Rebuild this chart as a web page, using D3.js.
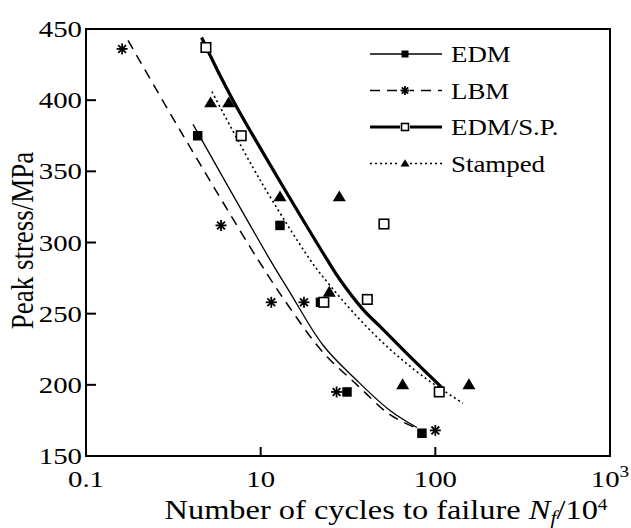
<!DOCTYPE html>
<head>
    <title>Peak stress vs cycles to failure</title>
    <script src="https://d3js.org/d3.v7.min.js"></script>
    <style>
      body { margin: 0; background: #fff; }
      text { font-family: "Liberation Serif", "Times New Roman", serif; fill: #000; }
    </style>
</head>

<body>
    <div id="svg-container">
        <svg width=631 height=528></svg>
    </div>
</body>

<script>
// measured points, N in units of 10^4 cycles, stress in MPa
const edmN = [4.36, 12.9, 22.0, 31.2, 83.8];
const edmS = [375, 312, 258, 195, 166];
const lbmN = [1.61, 5.93, 11.5, 17.7, 27.2, 100];
const lbmS = [436, 312, 258, 258, 195, 168];
const spN = [4.86, 7.74, 23.0, 40.8, 50.8, 105.3];
const spS = [437, 375, 258, 260, 313, 195];
const stN = [5.17, 6.56, 12.9, 28.2, 24.7, 65.0, 155.7];
const stS = [398, 398, 332, 332, 265, 200, 200];

// fitted curves
const edmFitN = [4.10, 11.3, 14.7, 22.7, 35.6, 55.0, 78.5];
const edmFitS = [383, 288, 265, 228, 203, 182, 170];
const lbmFitN = [1.74, 3.45, 9.65, 14.7, 22.7, 35.6, 55.0, 76.4];
const lbmFitS = [442, 379, 288, 254, 223, 200, 179, 170];
const spFitN = [4.59, 6.94, 24.0, 28.4, 38.5, 48.2, 68.8, 109.1];
const spFitS = [444, 400, 288, 274, 253, 241, 222, 198];
const stFitN = [5.26, 9.91, 19.15, 22.7, 35.6, 55.0, 84.9, 143.9];
const stFitS = [406, 344, 288, 276, 248, 225, 206, 187];

const xTicks = [1, 10, 100, 1000];
const xTickLabels = ["0.1", "10", "100", "10^3"];
const yTicks = [150, 200, 250, 300, 350, 400, 450];

const margin = {left: 86, right: 21, top: 29, bottom: 72};
const W = 631, H = 528;
const SX = 1.2;  // the picture's type is wider than it is tall

const x = d3.scaleLog().domain([1, 1000]).range([margin.left, W - margin.right]);
const y = d3.scaleLinear().domain([150, 450]).range([H - margin.bottom, margin.top]);

const svg = d3.select('svg');

const zip = (a, b) => a.map((v, i) => [v, b[i]]);

const series = [
  {name: 'EDM', pts: zip(edmN, edmS), fit: zip(edmFitN, edmFitS), marker: 'square', width: 1.3, dash: null},
  {name: 'LBM', pts: zip(lbmN, lbmS), fit: zip(lbmFitN, lbmFitS), marker: 'star', width: 1.5, dash: '10,7'},
  {name: 'EDM/S.P.', pts: zip(spN, spS), fit: zip(spFitN, spFitS), marker: 'open', width: 3.2, dash: null},
  {name: 'Stamped', pts: zip(stN, stS), fit: zip(stFitN, stFitS), marker: 'tri', width: 1.6, dash: '2,3'}
];

function label(px, py, size, anchor, sx) {
  return svg.append('text')
    .attr('transform', `translate(${px},${py}) scale(${sx || SX},1)`)
    .attr('text-anchor', anchor).attr('font-size', size + 'px');
}

function drawMarker(g, type, s) {
  if (type === 'square') {
    g.append('rect').attr('x', -s / 2).attr('y', -s / 2).attr('width', s).attr('height', s).attr('fill', '#000');
  } else if (type === 'open') {
    g.append('rect').attr('x', -s / 2).attr('y', -s / 2).attr('width', s).attr('height', s)
      .attr('fill', '#fff').attr('stroke', '#000').attr('stroke-width', 1.6);
  } else if (type === 'tri') {
    const h = s * 0.9;
    g.append('path').attr('d', `M0,${-h * 0.6}L${s / 2 + 0.5},${h * 0.4}L${-s / 2 - 0.5},${h * 0.4}Z`).attr('fill', '#000');
  } else {
    const r = s / 2;
    [0, 45, 90, 135].forEach(a => {
      const c = Math.cos(a * Math.PI / 180) * r, sn = Math.sin(a * Math.PI / 180) * r;
      g.append('line').attr('x1', -c).attr('y1', -sn).attr('x2', c).attr('y2', sn)
        .attr('stroke', '#000').attr('stroke-width', 1.8);
    });
  }
}

// frame
svg.append('rect')
  .attr('x', x.range()[0]).attr('y', y.range()[1])
  .attr('width', x.range()[1] - x.range()[0]).attr('height', y.range()[0] - y.range()[1])
  .attr('fill', 'none').attr('stroke', '#000').attr('stroke-width', 2);

// y ticks, pointing inward
yTicks.slice(1, -1).forEach(t => {
  svg.append('line').attr('x1', x.range()[0]).attr('x2', x.range()[0] + 10)
    .attr('y1', y(t)).attr('y2', y(t)).attr('stroke', '#000').attr('stroke-width', 2);
});
yTicks.forEach(t => {
  label(x.range()[0] - 4, y(t) + 8, 24, 'end').text(t);
});

// x ticks
xTicks.slice(1, -1).forEach(t => {
  svg.append('line').attr('x1', x(t)).attr('x2', x(t))
    .attr('y1', y.range()[0]).attr('y2', y.range()[0] - 9).attr('stroke', '#000').attr('stroke-width', 2);
});
xTicks.forEach((t, i) => {
  const lab = xTickLabels[i];
  const txt = label(x(t), 487, 24, 'middle');
  if (lab.indexOf('^') > -1) {
    const p = lab.split('^');
    txt.append('tspan').text(p[0]);
    txt.append('tspan').attr('dy', -10).attr('font-size', '16px').text(p[1]);
  } else {
    txt.text(lab);
  }
});

// axis titles
const xt = label(386, 519, 27, 'middle');
xt.append('tspan').text('Number of cycles to failure ');
xt.append('tspan').attr('font-style', 'italic').text('N');
xt.append('tspan').attr('font-style', 'italic').attr('font-size', '18px').attr('dy', 5).text('f');
xt.append('tspan').attr('dy', -5).text('/10');
xt.append('tspan').attr('font-size', '16px').attr('dy', -9).text('4');

svg.append('text')
  .attr('transform', `translate(33,${(y.range()[0] + y.range()[1]) / 2 - 2}) scale(${SX},1) rotate(-90)`)
  .attr('text-anchor', 'middle').attr('font-size', '27px')
  .text('Peak stress/MPa');

// fit curves
const line = d3.line()
  .x(d => x(d[0]))
  .y(d => y(d[1]))
  .curve(d3.curveCatmullRom.alpha(0.5));

series.forEach(s => {
  svg.append('path')
    .attr('d', line(s.fit))
    .attr('fill', 'none').attr('stroke', '#000')
    .attr('stroke-width', s.width)
    .attr('stroke-dasharray', s.dash);
});

// points
series.forEach(s => {
  const size = s.marker === 'tri' ? 12 : (s.marker === 'star' ? 11 : 9.5);
  s.pts.forEach(p => {
    const g = svg.append('g').attr('transform', `translate(${x(p[0])},${y(p[1])})`);
    drawMarker(g, s.marker, size);
  });
});

// legend
const legend = svg.append('g').attr('transform', 'translate(370,54)');
series.forEach((s, i) => {
  const row = legend.append('g').attr('transform', `translate(0,${i * 36.5})`);
  row.append('line').attr('x1', 0).attr('x2', 72).attr('y1', 0).attr('y2', 0)
    .attr('stroke', '#000').attr('stroke-width', s.width)
    .attr('stroke-dasharray', s.dash);
  const m = row.append('g').attr('transform', 'translate(35,0)');
  if (s.marker !== 'square') m.append('rect').attr('x', -5).attr('y', -4).attr('width', 10).attr('height', 8).attr('fill', '#fff');
  drawMarker(m, s.marker, s.marker === 'tri' ? 8 : (s.marker === 'star' ? 9 : 7));
  row.append('text')
    .attr('transform', `translate(81,8) scale(1.12,1)`)
    .attr('font-size', '24px').text(s.name);
});
</script>
